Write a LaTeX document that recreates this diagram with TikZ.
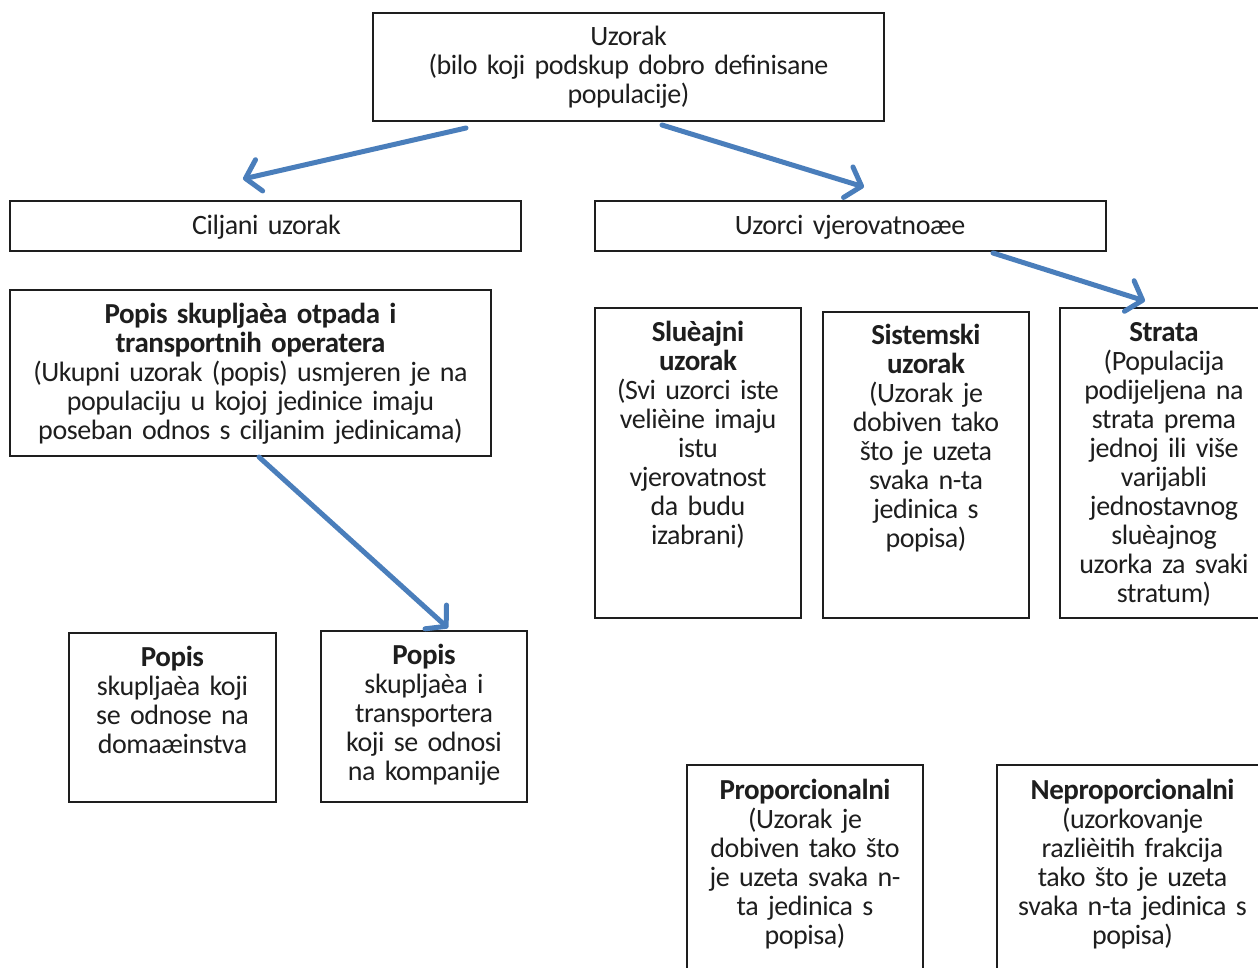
\documentclass[tikz,border=0pt]{standalone}
\usepackage{fontspec}
\setmainfont[WordSpace=0.5,LetterSpace=-1.5]{Carlito}
\usetikzlibrary{arrows.meta,calc}
\definecolor{arrowblue}{HTML}{4A7EBB}
\definecolor{inkgray}{HTML}{1E1E1E}
\newcommand{\hd}[1]{{\fontsize{29}{29}\selectfont\bfseries #1}}
\begin{document}
\begin{tikzpicture}[x=1pt,y=-1pt,
  box/.style={draw=inkgray,line width=1.4pt,anchor=north west,inner sep=0pt,outer sep=0pt},
  txt/.style={anchor=base,inner sep=0pt,align=center,text width=#1,text=inkgray,
    font=\fontsize{28}{29}\selectfont},
  txt/.default=500pt,
  conn/.style={draw=arrowblue,line width=5pt,line cap=round,
    -{Straight Barb[length=14pt,width=32pt,line cap=round,line join=round]}}]
\useasboundingbox (0,0) rectangle (1258,967);
\clip (0,0) rectangle (1258,967);
\fill[white] (0,0) rectangle (1258,967);
% boxes
\node[box,minimum width=511pt,minimum height=108pt] (uz) at (373,13) {};
\node[box,minimum width=511pt,minimum height=50pt] (cil) at (10,201) {};
\node[box,minimum width=511pt,minimum height=50pt] (uv) at (595,201) {};
\node[box,minimum width=481pt,minimum height=166pt] (pso) at (10,290) {};
\node[box,minimum width=206pt,minimum height=310pt] (slu) at (595,308) {};
\node[box,minimum width=206pt,minimum height=306pt] (sis) at (823,312) {};
\node[box,minimum width=230pt,minimum height=310pt] (str) at (1060,308) {};
\node[box,minimum width=207pt,minimum height=169pt] (pd) at (69,633) {};
\node[box,minimum width=206pt,minimum height=171pt] (pk) at (321,631) {};
\node[box,minimum width=236pt,minimum height=230pt] (pro) at (687,765) {};
\node[box,minimum width=290pt,minimum height=230pt] (nep) at (997,765) {};
% texts
\node[txt] (uzt) at (628.5,45) {Uzorak\\(bilo koji podskup dobro definisane\\populacije)};
\node[txt] (cilt) at (266.5,234) {Ciljani uzorak};
\node[txt] (uvt) at (850,234) {Uzorci vjerovatnoæe};
\node[txt=470pt] (psot) at (250.5,323) {\hd{Popis skupljaèa otpada i}\\\hd{transportnih operatera}\\(Ukupni uzorak (popis) usmjeren je na\\populaciju u kojoj jedinice imaju\\poseban odnos s ciljanim jedinicama)};
\node[txt=200pt] (slut) at (698,341) {\hd{Sluèajni}\\\hd{uzorak}\\(Svi uzorci iste\\velièine imaju\\istu\\vjerovatnost\\da budu\\izabrani)};
\node[txt=200pt] (sist) at (926,344) {\hd{Sistemski}\\\hd{uzorak}\\(Uzorak je\\dobiven tako\\što je uzeta\\svaka n-ta\\jedinica s\\popisa)};
\node[txt=200pt] (strt) at (1164,341) {\hd{Strata}\\(Populacija\\podijeljena na\\strata prema\\jednoj ili više\\varijabli\\jednostavnog\\sluèajnog\\uzorka za svaki\\stratum)};
\node[txt=200pt] (pdt) at (172.5,666) {\hd{Popis}\\skupljaèa koji\\se odnose na\\domaæinstva};
\node[txt=200pt] (pkt) at (424,664) {\hd{Popis}\\skupljaèa i\\transportera\\koji se odnosi\\na kompanije};
\node[txt=230pt] (prot) at (805,799) {\hd{Proporcionalni}\\(Uzorak je\\dobiven tako što\\je uzeta svaka n-\\ta jedinica s\\popisa)};
\node[txt=250pt] (nept) at (1132.5,799) {\hd{Neproporcionalni}\\(uzorkovanje\\razlièitih frakcija\\tako što je uzeta\\svaka n-ta jedinica s\\popisa)};
% connector ends
\coordinate (a1s) at ($(uz.south west)+(93,7)$);
\coordinate (a1e) at ($(cil.north west)+(233,-22)$);
\coordinate (a2s) at ($(uz.south west)+(289,4)$);
\coordinate (a2e) at ($(uv.north west)+(269,-14)$);
\coordinate (a3s) at ($(uv.south west)+(398,2)$);
\coordinate (a3e) at ($(str.north west)+(85,-7)$);
\coordinate (a4s) at ($(pso.south west)+(249,1)$);
\coordinate (a4e) at ($(pk.north west)+(127,-3)$);
\draw[conn] (a1s) -- (a1e);
\draw[conn] (a2s) -- (a2e);
\draw[conn] (a3s) -- (a3e);
\draw[conn] (a4s) -- (a4e);
\end{tikzpicture}
\end{document}
